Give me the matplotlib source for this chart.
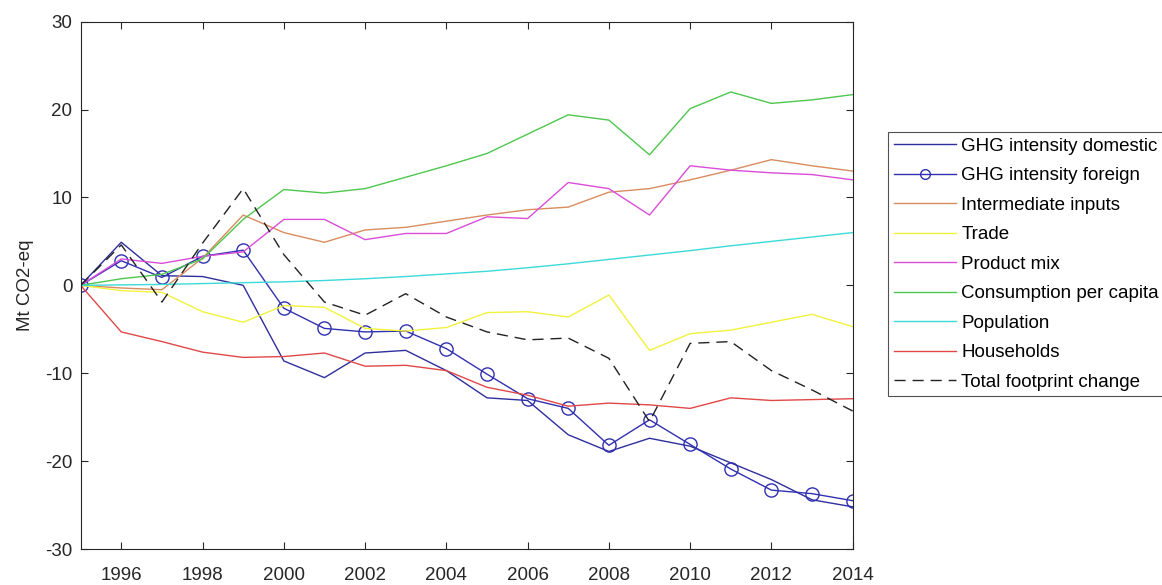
import numpy as np
import matplotlib
matplotlib.use("Agg")
import matplotlib.pyplot as plt

plt.rcParams['font.family'] = ['Liberation Sans', 'DejaVu Sans']
plt.rcParams['axes.unicode_minus'] = False

years = np.arange(1995, 2015)

ghg_domestic = [0, 4.9, 1.1, 1.0, 0.0, -8.6, -10.5, -7.7, -7.4, -9.7,
                -12.8, -13.1, -17.0, -18.9, -17.4, -18.3, -20.2, -22.1, -24.4, -25.2]
ghg_foreign = [0, 2.8, 0.9, 3.3, 4.0, -2.6, -4.9, -5.3, -5.2, -7.2,
               -10.1, -12.9, -14.0, -18.2, -15.3, -18.1, -20.9, -23.3, -23.7, -24.5]
intermediate = [0, -0.3, -0.5, 3.1, 8.0, 6.0, 4.9, 6.3, 6.6, 7.3,
                8.0, 8.6, 8.9, 10.6, 11.0, 12.0, 13.1, 14.3, 13.6, 13.0]
trade = [0, -0.6, -0.8, -3.0, -4.2, -2.3, -2.5, -4.9, -5.2, -4.8,
         -3.1, -3.0, -3.6, -1.1, -7.4, -5.5, -5.1, -4.2, -3.3, -4.7]
product_mix = [0, 3.0, 2.5, 3.3, 3.8, 7.5, 7.5, 5.2, 5.9, 5.9,
               7.8, 7.6, 11.7, 11.0, 8.0, 13.6, 13.1, 12.8, 12.6, 12.0]
consumption = [0, 0.75, 1.25, 3.0, 7.5, 10.9, 10.5, 11.0, 12.3, 13.6,
               15.0, 17.2, 19.4, 18.8, 14.85, 20.1, 22.0, 20.7, 21.1, 21.7]
population = [0, 0.05, 0.1, 0.2, 0.3, 0.4, 0.55, 0.75, 1.0, 1.3,
              1.6, 2.0, 2.45, 2.95, 3.45, 3.95, 4.5, 5.0, 5.5, 6.0]
households = [0, -5.3, -6.4, -7.6, -8.2, -8.1, -7.7, -9.2, -9.1, -9.7,
              -11.6, -12.5, -13.75, -13.4, -13.6, -14.0, -12.8, -13.1, -13.0, -12.9]
total_change = [0, 4.6, -1.9, 4.8, 11.0, 3.5, -1.9, -3.4, -0.95, -3.6,
                -5.3, -6.2, -6.0, -8.3, -15.5, -6.6, -6.4, -9.7, -11.9, -14.3]

axis_col = "#262626"

fig = plt.figure(figsize=(11.62, 5.85), dpi=100)
ax = fig.add_axes([0.0694, 0.0615, 0.6644, 0.9015])

lw = 1.0
ax.plot(years, ghg_domestic, color="#2E2E9E", lw=lw, label="GHG intensity domestic")
ax.plot(years, ghg_foreign, color="#3030B0", lw=lw, marker="o", markersize=9.5,
        markerfacecolor="none", markeredgewidth=1.0, label="GHG intensity foreign")
ax.plot(years, intermediate, color="#D98C5F", lw=lw, label="Intermediate inputs")
ax.plot(years, trade, color="#F2F23C", lw=lw, label="Trade")
ax.plot(years, product_mix, color="#D94DD9", lw=lw, label="Product mix")
ax.plot(years, consumption, color="#4DC74D", lw=lw, label="Consumption per capita")
ax.plot(years, population, color="#3CD9D9", lw=lw, label="Population")
ax.plot(years, households, color="#E04848", lw=lw, label="Households")
ax.plot(years, total_change, color="#222222", lw=lw, ls="--", dashes=(8, 5),
        label="Total footprint change")

ax.set_xlim(1995, 2014)
ax.set_ylim(-30, 30)
ax.set_xticks(np.arange(1996, 2015, 2))
ax.set_yticks(np.arange(-30, 31, 10))
ax.tick_params(direction="in", length=5, width=0.8, top=True, right=True,
               labelsize=13.5, colors=axis_col)
ax.tick_params(axis="x", pad=13)
ax.tick_params(axis="y", pad=6)
for s in ax.spines.values():
    s.set_color(axis_col)
    s.set_linewidth(0.8)
ax.set_ylabel("Mt CO2-eq", fontsize=13.5, color=axis_col, labelpad=8)

leg = fig.legend(loc="upper left", bbox_to_anchor=(888 / 1162, 1 - 132 / 585),
                 fontsize=13.5, frameon=True, fancybox=False, numpoints=1,
                 handlelength=3.3, handletextpad=0.3, labelspacing=0.66,
                 borderpad=0.3, borderaxespad=0)
leg.get_frame().set_edgecolor(axis_col)
leg.get_frame().set_linewidth(0.8)
# smaller circle in the legend than on the plot
leg.legend_handles[1].set_markersize(7)

fig.savefig("out.png", dpi=100)
